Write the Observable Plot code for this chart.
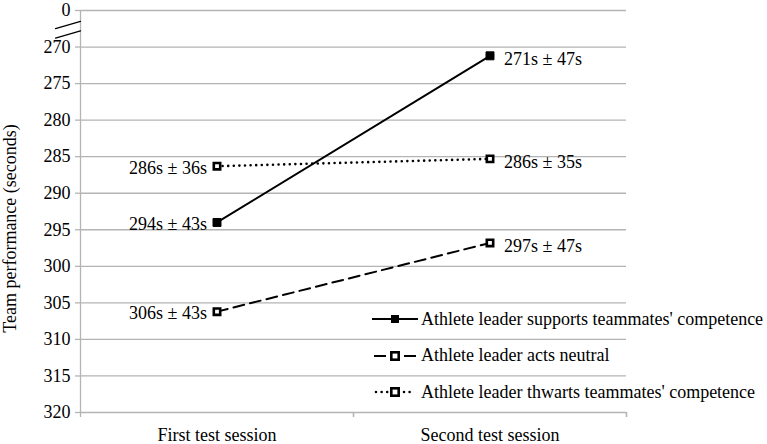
<!DOCTYPE html>
<html>
<head>
<meta charset="utf-8">
<script src="https://cdn.jsdelivr.net/npm/d3@7"></script>
<script src="https://cdn.jsdelivr.net/npm/@observablehq/plot@0.6"></script>
<style>
  html, body { margin: 0; padding: 0; background: #fff; }
  #wrap { position: relative; width: 767px; height: 444px; font-family: 'Liberation Serif', 'DejaVu Serif', serif; }
  #wrap svg text { font-family: 'Liberation Serif', 'DejaVu Serif', serif; }
  #legend { position: absolute; left: 372px; top: 301px; }
  .row { display: flex; align-items: center; height: 36.5px; font-size: 18px; color: #000; white-space: nowrap; }
  .row svg { margin-right: 3px; }
</style>
</head>
<body>
<div id="wrap"></div>
<script>
// ---- data ----
const sessions = ["First test session", "Second test session"];
const seriesNames = [
  "Athlete leader supports teammates' competence",
  "Athlete leader acts neutral",
  "Athlete leader thwarts teammates' competence"
];
const supports = [294.0, 271.2];
const neutral = [306.2, 296.8];
const thwarts = [286.3, 285.3];
const supportsLabels = ["294s ± 43s", "271s ± 47s"];
const neutralLabels = ["306s ± 43s", "297s ± 47s"];
const thwartsLabels = ["286s ± 36s", "286s ± 35s"];
const yTicks = [270, 275, 280, 285, 290, 295, 300, 305, 310, 315, 320];
const breakValue = 265;        // position standing for the "0" tick above the axis break
const breakLabel = "0";
const breakMarks = [266.5, 267.8];
const yTitle = "Team performance (seconds)";

// ---- table ----
const mk = (vals, labels, s) => vals.map((v, i) => ({series: s, x: i + 0.5, y: v, label: labels[i], side: i}));
const dSup = mk(supports, supportsLabels, seriesNames[0]);
const dNeu = mk(neutral, neutralLabels, seriesNames[1]);
const dThw = mk(thwarts, thwartsLabels, seriesNames[2]);
const all = [...dSup, ...dNeu, ...dThw];
const allTicks = [breakValue, ...yTicks];
const grid = "#b4b4b4";

const slash = {draw(ctx, l) { ctx.moveTo(0, l / 2); ctx.lineTo(0, -l / 2); }};

const chart = Plot.plot({
  width: 767,
  height: 444,
  marginLeft: 80,
  marginRight: 141,
  marginTop: 10,
  marginBottom: 32,
  style: {fontFamily: "'Liberation Serif', 'DejaVu Serif', serif", fontSize: "18px", color: "#000", background: "#fff"},
  x: {type: "linear", domain: [0, 2], axis: null},
  y: {type: "linear", domain: [breakValue, 320], reverse: true, axis: null},
  marks: [
    Plot.ruleY(allTicks, {x1: 0, x2: 2, stroke: grid, strokeWidth: 1.3}),
    Plot.ruleX([0], {y1: breakValue, y2: 320, stroke: grid, strokeWidth: 1.3}),
    Plot.ruleX([1, 2], {y1: 320, y2: 320, stroke: grid, insetBottom: -5, strokeWidth: 1.3}),
    Plot.axisY({ticks: allTicks, tickSize: 5, stroke: grid, strokeWidth: 1.3, tickPadding: 5,
      tickFormat: d => d === breakValue ? breakLabel : String(d), label: null}),
    Plot.axisX({ticks: [0, 1, 2], tickSize: 5, stroke: grid, strokeWidth: 1.3, tickFormat: () => "", label: null}),
    Plot.axisX({ticks: [0.5, 1.5], tickSize: 0, tickPadding: 16, tickFormat: d => sessions[Math.floor(d)], label: null}),
    Plot.vector(breakMarks, {x: 0, y: d => d, length: 26, rotate: 74, anchor: "middle", shape: slash, stroke: "#000", strokeWidth: 1.3}),
    Plot.text([yTitle], {frameAnchor: "left", textAnchor: "middle", rotate: -90, dx: -70, dy: 17, fill: "#000"}),
    Plot.line(dSup, {x: "x", y: "y", stroke: "#000", strokeWidth: 2}),
    Plot.line(dNeu, {x: "x", y: "y", stroke: "#000", strokeWidth: 2, strokeDasharray: "11,6"}),
    Plot.line(dThw, {x: "x", y: "y", stroke: "#000", strokeWidth: 2.6, strokeDasharray: "0,5.6", strokeLinecap: "round"}),
    Plot.dot(dSup, {x: "x", y: "y", symbol: "square", r: 4.5, fill: "#000", stroke: "#000", strokeWidth: 1}),
    Plot.dot([...dNeu, ...dThw], {x: "x", y: "y", symbol: "square", r: 3.6, fill: "#fff", stroke: "#000", strokeWidth: 2.6}),
    Plot.text(all.filter(d => d.side === 0), {x: "x", y: "y", text: "label", textAnchor: "end", dx: -10, dy: 2, fill: "#000"}),
    Plot.text(all.filter(d => d.side === 1), {x: "x", y: "y", text: "label", textAnchor: "start", dx: 14, dy: 3, fill: "#000"})
  ]
});

const wrap = document.getElementById("wrap");
wrap.appendChild(chart);

// ---- legend ----
const legend = document.createElement("div");
legend.id = "legend";
const samples = [
  `<line x1="0" y1="7" x2="46" y2="7" stroke="#000" stroke-width="2"/><rect x="19" y="3" width="8" height="8" fill="#000"/>`,
  `<line x1="2" y1="7" x2="14" y2="7" stroke="#000" stroke-width="2"/><line x1="32" y1="7" x2="44" y2="7" stroke="#000" stroke-width="2"/><rect x="19.3" y="3.3" width="7.4" height="7.4" fill="#fff" stroke="#000" stroke-width="2.6"/>`,
  `<line x1="4" y1="7" x2="16" y2="7" stroke="#000" stroke-width="2.6" stroke-dasharray="0,5.6" stroke-linecap="round"/><line x1="32" y1="7" x2="42" y2="7" stroke="#000" stroke-width="2.6" stroke-dasharray="0,5.6" stroke-linecap="round"/><rect x="19.3" y="3.3" width="7.4" height="7.4" fill="#fff" stroke="#000" stroke-width="2.6"/>`
];
seriesNames.forEach((name, i) => {
  const row = document.createElement("div");
  row.className = "row";
  row.innerHTML = `<svg width="46" height="14">${samples[i]}</svg><span></span>`;
  row.querySelector("span").textContent = name;
  legend.appendChild(row);
});
wrap.appendChild(legend);
</script>
</body>
</html>
